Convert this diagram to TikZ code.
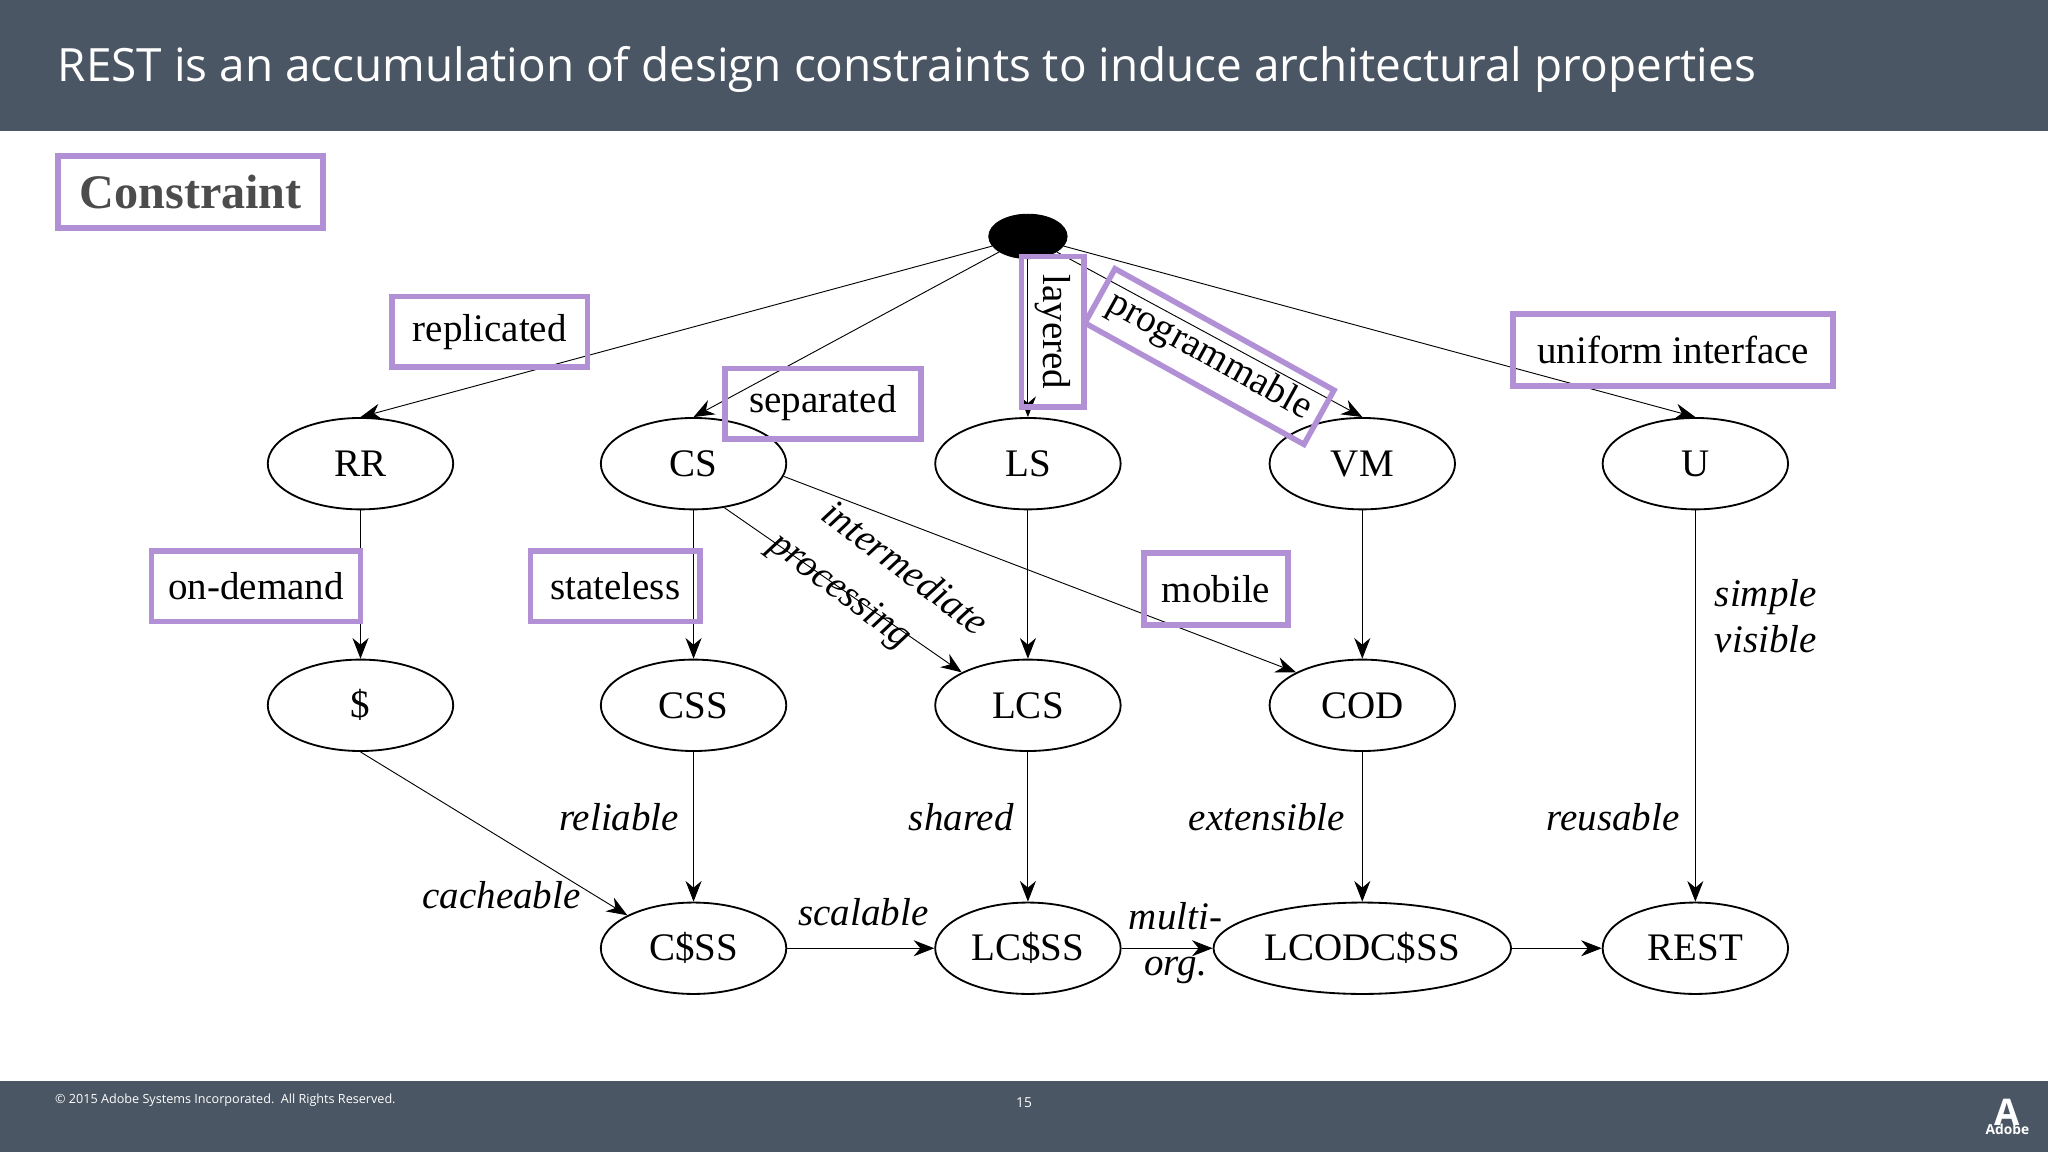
\documentclass[tikz,border=0pt]{standalone}
\usepackage{fontspec}
\setmainfont{Liberation Serif}
\newfontfamily\sans{Open Sans}
\usetikzlibrary{arrows.meta,shapes.geometric}
\definecolor{slate}{RGB}{74,86,99}
\definecolor{lilac}{RGB}{178,144,214}
\tikzset{
    %Define standard arrow tip
    >={Stealth[length=9pt,width=7pt]},
    state/.style={draw, thick, ellipse, minimum width=2.84cm, minimum height=1.4cm, font=\fontsize{17}{17}\selectfont},
    prop/.style={font=\fontsize{17}{20}\selectfont\itshape},
    cons/.style={draw=lilac, line width=2.4pt, font=\fontsize{17}{17}\selectfont, inner sep=5pt}
}

\begin{document}
\begin{tikzpicture}[x=0.02cm,y=-0.02cm]
    \useasboundingbox (0,0) rectangle (1568,882);
    \fill[slate] (0,0) rectangle (1568,100);
    \fill[slate] (0,828) rectangle (1568,882);
    \node[anchor=west, text=white, font=\sans\fontsize{20}{20}\selectfont] (title) at (38,53) {REST is an accumulation of design constraints to induce architectural properties};
    \node[anchor=west, text=white, font=\sans\fontsize{5.5}{6}\selectfont] (copy) at (36,842) {\textcopyright{} 2015 Adobe Systems Incorporated.\ \ All Rights Reserved.};
    \node[text=white, font=\sans\fontsize{6}{6}\selectfont] (page) at (784,844) {15};
    \node[text=white, font=\sans\bfseries\fontsize{6}{6}\selectfont, align=center] (logo) at (1537,855) {{\fontsize{16}{16}\selectfont A}\\[-2pt]Adobe};

    % the states
    \node[draw, fill=black, ellipse, minimum width=1.2cm, minimum height=0.68cm] (root) at (787,181) {};
    \node[state] (RR) at (276,355) {RR};
    \node[state] (CS) at (531,355) {CS};
    \node[state] (LS) at (787,355) {LS};
    \node[state] (VM) at (1043,355) {VM};
    \node[state] (U) at (1298,355) {U};
    \node[state] (cache) at (276,540) {\$};
    \node[state] (CSS) at (531,540) {CSS};
    \node[state] (LCS) at (787,540) {LCS};
    \node[state] (COD) at (1043,540) {COD};
    \node[state] (CcSS) at (531,726) {C\$SS};
    \node[state] (LCcSS) at (787,726) {LC\$SS};
    \node[state, minimum width=4cm] (LCODCcSS) at (1043,726) {LCODC\$SS};
    \node[state] (REST) at (1298,726) {REST};

    \draw[->] (root) -- (RR.north);
    \draw[->] (root) -- (CS.north);
    \draw[->] (root) -- (LS.north);
    \draw[->] (root) -- (VM.north);
    \draw[->] (root) -- (U.north);
    \draw[->] (RR) -- (cache);
    \draw[->] (CS) -- (CSS);
    \draw[->] (CS.-55) -- (LCS.north west);
    \draw[->] (CS.-8) -- (COD.north west);
    \draw[->] (LS) -- (LCS);
    \draw[->] (VM) -- (COD);
    \draw[->] (U) -- (REST);
    \draw[->] (cache.south) -- (CcSS.north west);
    \draw[->] (CSS) -- (CcSS);
    \draw[->] (LCS) -- (LCcSS);
    \draw[->] (COD) -- (LCODCcSS);
    \draw[->] (CcSS) -- (LCcSS);
    \draw[->] (LCcSS) -- (LCODCcSS);
    \draw[->] (LCODCcSS) -- (REST);

    % the properties
    \node[prop, rotate=-37, align=left, font=\fontsize{17}{24}\selectfont\itshape] (inter) at (672,448) {\hspace*{0.6em}intermediate\\processing};
    \node[prop, align=left] (simple) at (1352,472) {simple\\visible};
    \node[prop] (reliable) at (474,626) {reliable};
    \node[prop] (shared) at (736,626) {shared};
    \node[prop] (extensible) at (970,626) {extensible};
    \node[prop] (reusable) at (1235,626) {reusable};
    \node[prop] (cacheable) at (384,685) {cacheable};
    \node[prop] (scalable) at (661,698) {scalable};
    \node[prop, align=center] (multi) at (900,722) {multi-\\org.};

    % the constraints
    \node[cons, font=\bfseries\fontsize{21}{21}\selectfont, text=black!70, minimum width=4.06cm, minimum height=1.1cm] (constraint) at (146,147) {Constraint};
    \node[cons, minimum width=3cm, minimum height=1.08cm] (replicated) at (375,254) {replicated};
    \node[cons, minimum width=3cm, minimum height=1.08cm] (separated) at (630,309) {separated};
    \node[cons, rotate=-90, minimum width=2.3cm, minimum height=0.95cm] (layered) at (806,254) {layered};
    \node[cons, rotate=-29, minimum height=0.95cm] (programmable) at (926,273) {programmable};
    \node[cons, minimum width=4.9cm, minimum height=1.1cm] (uniform) at (1281,268) {uniform interface};
    \node[cons, minimum width=3.2cm, minimum height=1.08cm] (ondemand) at (196,449) {on-demand};
    \node[cons, minimum width=2.6cm, minimum height=1.08cm] (stateless) at (471,449) {stateless};
    \node[cons, minimum width=2.2cm, minimum height=1.1cm] (mobile) at (931,451) {mobile};
\end{tikzpicture}
\end{document}
